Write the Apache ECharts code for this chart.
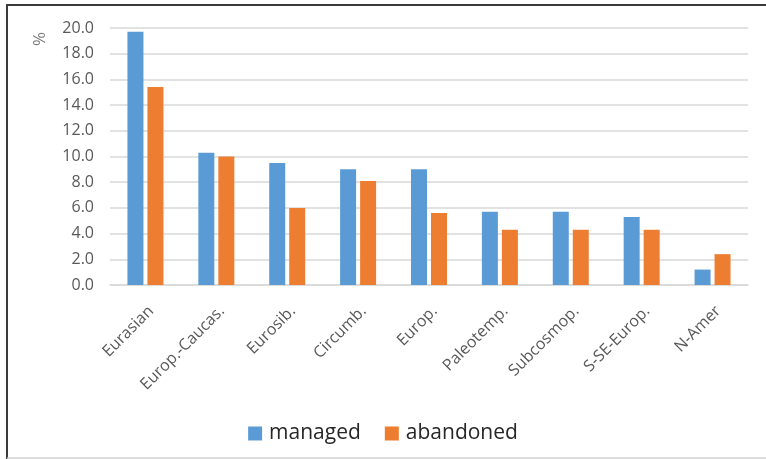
<!DOCTYPE html>
<html>
<head>
<meta charset="utf-8">
<script src="https://cdn.jsdelivr.net/npm/echarts@6/dist/echarts.min.js"></script>
<style>
  html, body { margin: 0; padding: 0; background: #fff; }
  #chart { width: 766px; height: 459px; }
</style>
</head>
<body>
<div id="chart"></div>
<script>
var categories = ['Eurasian', 'Europ.-Caucas.', 'Eurosib.', 'Circumb.', 'Europ.', 'Paleotemp.', 'Subcosmop.', 'S-SE-Europ.', 'N-Amer'];
var managed = [19.7, 10.3, 9.5, 9.0, 9.0, 5.7, 5.7, 5.3, 1.2];
var abandoned = [15.4, 10.0, 6.0, 8.1, 5.6, 4.3, 4.3, 4.3, 2.4];

var chartDom = document.getElementById('chart');
var myChart = echarts.init(chartDom);
var option;

var labelFont = 'Open Sans, Liberation Sans, sans-serif';

option = {
  animation: false,
  backgroundColor: '#fff',
  color: ['#5b9bd5', '#ed7d31'],
  grid: { left: 110, right: 18, top: 28, bottom: 174 },
  legend: {
    bottom: 10,
    left: 'center',
    itemWidth: 14,
    itemHeight: 14,
    itemGap: 24,
    icon: 'rect',
    textStyle: { fontSize: 21, color: '#262626', fontFamily: labelFont, padding: [0, 0, 0, 2] },
    data: ['managed', 'abandoned']
  },
  graphic: [
    { type: 'line', shape: { x1: 7, y1: 4, x2: 7, y2: 459 }, style: { stroke: '#3a3a3a', lineWidth: 2 } },
    { type: 'line', shape: { x1: 6, y1: 5, x2: 766, y2: 5 }, style: { stroke: '#3a3a3a', lineWidth: 2 } },
    { type: 'line', shape: { x1: 7, y1: 458, x2: 766, y2: 458 }, style: { stroke: '#d0d0d0', lineWidth: 1.5 } },
    { type: 'text', x: 40, y: 39, rotation: Math.PI / 2,
      style: { text: '%', fontSize: 17, fill: '#7f7f7f', fontFamily: labelFont,
               align: 'center', verticalAlign: 'middle' } }
  ],
  xAxis: {
    type: 'category',
    data: categories,
    axisLine: { lineStyle: { color: '#d9d9d9', width: 1.5 } },
    axisTick: { show: false },
    axisLabel: {
      rotate: 45,
      interval: 0,
      margin: 18,
      fontSize: 16,
      verticalAlign: 'top',
      color: '#595959',
      fontFamily: labelFont
    }
  },
  yAxis: {
    type: 'value',
    min: 0,
    max: 20,
    interval: 2,
    axisLine: { show: false },
    axisTick: { show: false },
    splitLine: { lineStyle: { color: '#d9d9d9', width: 1.5 } },
    axisLabel: {
      margin: 16,
      fontSize: 16,
      color: '#595959',
      fontFamily: labelFont,
      formatter: function (v) { return v.toFixed(1); }
    }
  },
  series: [
    { name: 'managed', type: 'bar', data: managed, barWidth: 16, barGap: '25%' },
    { name: 'abandoned', type: 'bar', data: abandoned, barWidth: 16, barGap: '25%' }
  ]
};

option && myChart.setOption(option);
</script>
</body>
</html>
